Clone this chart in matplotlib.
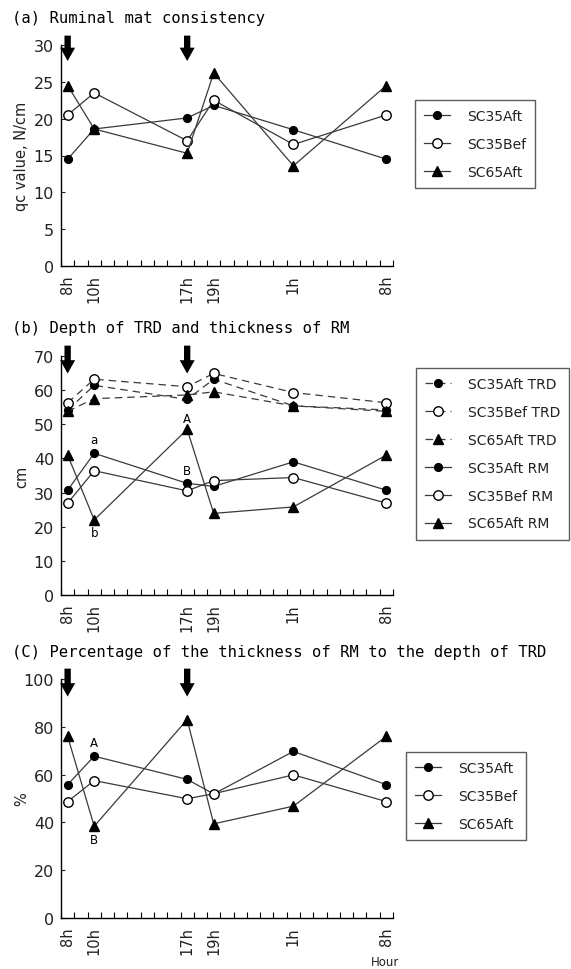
import matplotlib
matplotlib.use("Agg")
import matplotlib.pyplot as plt

plt.rcParams['font.family'] = ['DejaVu Sans']

hours = [8, 10, 17, 19, 25, 32]
hour_labels = ['8h', '10h', '17h', '19h', '1h', '8h']
arrow_hours = [8, 17]

# (a) Ruminal mat consistency, N/cm
qc_sc35aft = [14.5, 18.6, 20.1, 21.8, 18.5, 14.5]
qc_sc35bef = [20.5, 23.5, 17.0, 22.5, 16.5, 20.5]
qc_sc65aft = [24.5, 18.6, 15.3, 26.2, 13.6, 24.5]

# (b) Depth of TRD and thickness of RM, cm
trd_sc35aft = [54.2, 61.4, 57.3, 63.2, 55.4, 54.2]
trd_sc35bef = [56.3, 63.2, 61.0, 64.9, 59.3, 56.3]
trd_sc65aft = [53.8, 57.5, 58.6, 59.5, 55.4, 53.8]
rm_sc35aft = [30.7, 41.5, 32.7, 31.8, 39.0, 30.7]
rm_sc35bef = [26.9, 36.4, 30.5, 33.5, 34.4, 26.9]
rm_sc65aft = [41.0, 22.0, 48.5, 23.9, 25.8, 41.0]

# (c) Percentage RM / TRD, %
pct_sc35aft = [55.8, 67.7, 58.0, 51.9, 69.7, 55.8]
pct_sc35bef = [48.7, 57.5, 49.9, 52.0, 59.9, 48.7]
pct_sc65aft = [76.0, 38.4, 83.0, 39.4, 46.8, 76.0]

W, H = 571, 970
fig = plt.figure(figsize=(W / 100, H / 100), dpi=100)


def axrect(l, t, r, b):
    return [l / W, 1 - b / H, (r - l) / W, (b - t) / H]


LINEC = '#3a3a3a'
TXT = '#222222'
styles = {
    'fc': dict(marker='o', mfc='black', mec='black', ms=5.6),
    'oc': dict(marker='o', mfc='white', mec='black', ms=6.8, mew=1.0),
    'tr': dict(marker='^', mfc='black', mec='black', ms=7.0),
}


def setup(ax, ymax, ystep, label):
    ax.set_xlim(7.5, 32.5)
    ax.set_ylim(0, ymax)
    for s in ['top', 'right']:
        ax.spines[s].set_visible(False)
    for s in ['left', 'bottom']:
        ax.spines[s].set_linewidth(1.0)
        ax.spines[s].set_color('black')
    ax.set_yticks(range(0, ymax + 1, ystep))
    ax.tick_params(axis='y', direction='in', length=3, labelsize=11.5, pad=5, colors=TXT)
    ax.set_xticks(hours)
    ax.set_xticklabels(hour_labels, rotation=90, fontsize=10.5, color=TXT)
    ax.tick_params(axis='x', which='major', length=0, pad=6)
    ax.set_xticks([h + 0.5 for h in range(7, 33)], minor=True)
    ax.tick_params(axis='x', which='minor', direction='in', length=4, width=0.8)
    ax.set_ylabel(label, fontsize=10.5, color=TXT)
    ax.yaxis.set_label_coords(-0.096, 0.5)
    for h in arrow_hours:
        ax.annotate('', xy=(h, 0.915), xytext=(h, 1.055),
                    xycoords=('data', 'axes fraction'),
                    arrowprops=dict(arrowstyle='simple,head_width=0.9,head_length=0.8,tail_width=0.38',
                                    color='black', mutation_scale=12, lw=0),
                    annotation_clip=False)


def plot_series(ax, y, st, ls='-', label=None):
    ax.plot(hours, y, color=LINEC, lw=0.9, ls=ls, label=label, clip_on=False,
            dashes=(6, 4) if ls == '--' else (None, None), **styles[st])


def add_legend(ax, handles, rect, fs=10):
    l, t = rect
    leg = ax.legend(handles=handles, loc='upper left',
                    bbox_to_anchor=(l / W, 1 - t / H), bbox_transform=fig.transFigure,
                    frameon=True, fancybox=False, fontsize=fs, labelspacing=1.0,
                    handlelength=1.9, handletextpad=1.2, borderpad=0.65, borderaxespad=0)
    leg.get_frame().set_edgecolor('#333333')
    leg.get_frame().set_linewidth(1.0)
    for t_ in leg.get_texts():
        t_.set_color(TXT)
    return leg


TITLE_KW = dict(fontsize=11.2, va='center', ha='left', family=['DejaVu Sans Mono'])

# ---------------- Panel (a)
axa = fig.add_axes(axrect(61, 46, 393, 267))
setup(axa, 30, 5, 'qc value, N/cm')
plot_series(axa, qc_sc35aft, 'fc', label='SC35Aft')
plot_series(axa, qc_sc35bef, 'oc', label='SC35Bef')
plot_series(axa, qc_sc65aft, 'tr', label='SC65Aft')
ha, la = axa.get_legend_handles_labels()
add_legend(axa, ha, (415, 101))
fig.text(12 / W, 1 - 18 / H, '(a) Ruminal mat consistency', **TITLE_KW)

# ---------------- Panel (b)
axb = fig.add_axes(axrect(61, 357, 393, 596))
setup(axb, 70, 10, 'cm')
plot_series(axb, trd_sc35aft, 'fc', ls='--', label='SC35Aft TRD')
plot_series(axb, trd_sc35bef, 'oc', ls='--', label='SC35Bef TRD')
plot_series(axb, trd_sc65aft, 'tr', ls='--', label='SC65Aft TRD')
plot_series(axb, rm_sc35aft, 'fc', label='SC35Aft RM')
plot_series(axb, rm_sc35bef, 'oc', label='SC35Bef RM')
plot_series(axb, rm_sc65aft, 'tr', label='SC65Aft RM')
hb, lb = axb.get_legend_handles_labels()
add_legend(axb, hb, (416, 369))
axb.text(10, 45.6, 'a', fontsize=8.5, ha='center', va='center')
axb.text(10, 18.3, 'b', fontsize=8.5, ha='center', va='center')
axb.text(17, 51.8, 'A', fontsize=8.5, ha='center', va='center')
axb.text(17, 36.4, 'B', fontsize=8.5, ha='center', va='center')
fig.text(12 / W, 1 - 329 / H, '(b) Depth of TRD and thickness of RM', **TITLE_KW)

# ---------------- Panel (c)
axc = fig.add_axes(axrect(61, 680, 393, 919))
setup(axc, 100, 20, '%')
plot_series(axc, pct_sc35aft, 'fc', label='SC35Aft')
plot_series(axc, pct_sc35bef, 'oc', label='SC35Bef')
plot_series(axc, pct_sc65aft, 'tr', label='SC65Aft')
hc, lc = axc.get_legend_handles_labels()
add_legend(axc, hc, (406, 753))
axc.text(10, 73.3, 'A', fontsize=8.5, ha='center', va='center')
axc.text(10, 33.0, 'B', fontsize=8.5, ha='center', va='center')
fig.text(12 / W, 1 - 652 / H, '(C) Percentage of the thickness of RM to the depth of TRD', **TITLE_KW)
fig.text(385 / W, 1 - 963 / H, 'Hour', fontsize=8.5, ha='center', va='center', color=TXT)

fig.savefig('out.png', dpi=100)
